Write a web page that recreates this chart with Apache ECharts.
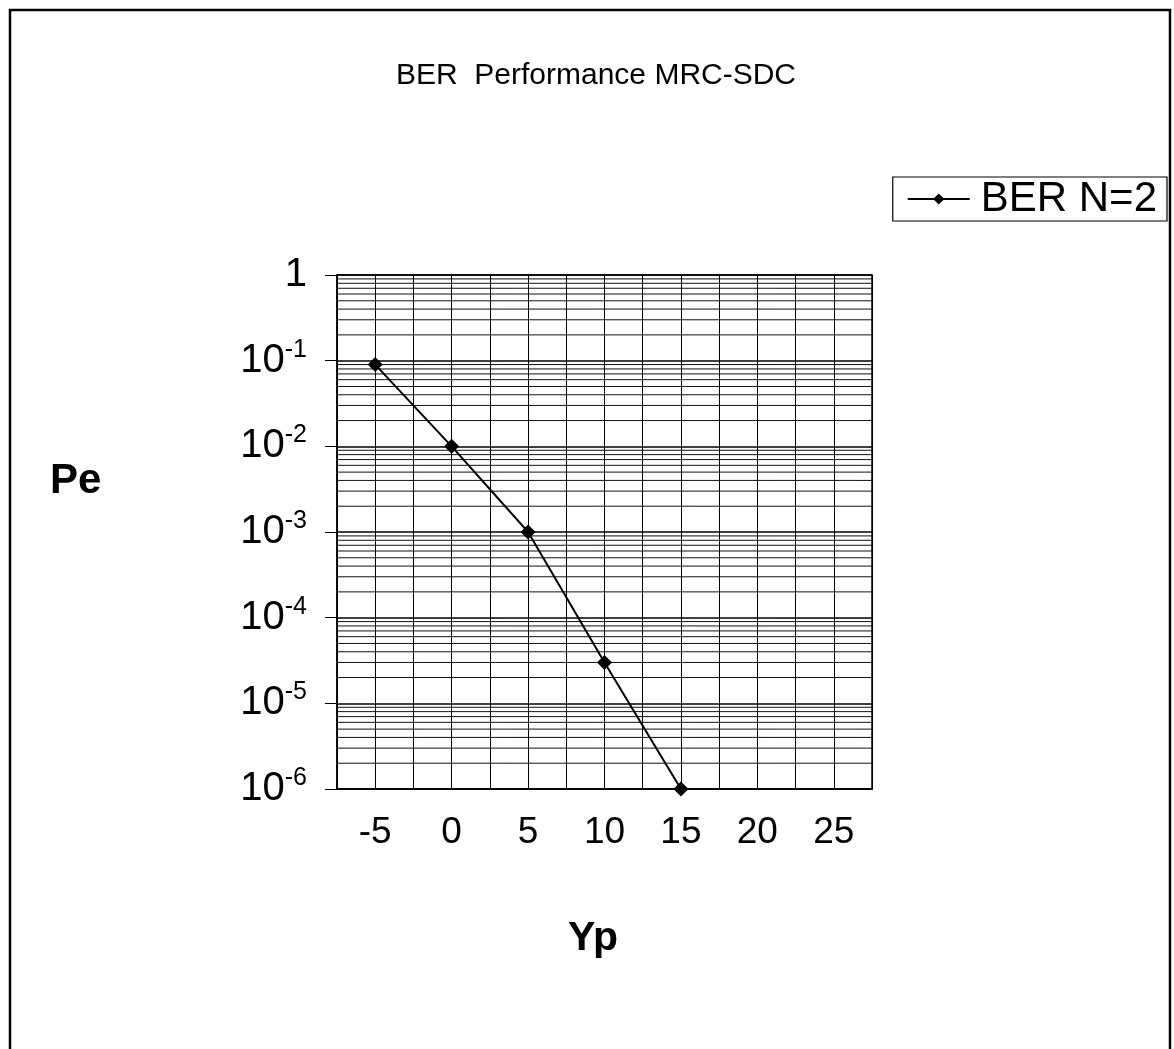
<!DOCTYPE html>
<html>
<head>
<meta charset="utf-8">
<script src="https://cdn.jsdelivr.net/npm/echarts@6/dist/echarts.min.js"></script>
<style>
html,body{margin:0;padding:0;background:#fff;}
#c{width:1174px;height:1049px;}
</style>
</head>
<body>
<div id="c"></div>
<script>
// Data
var yp = [-5, 0, 5, 10, 15];
var berN2 = [0.09, 0.01, 0.001, 0.00003, 0.000001];
var xTickLabels = [-5, 0, 5, 10, 15, 20, 25];
var seriesName = 'BER N=2';
var xMin = -7.5, xMax = 27.5;

var FONT = 'Liberation Sans, Arial, sans-serif';

// log minor grid lines (2..9 within each decade), drawn as thin line series across the plot
var gridSeries = [];
for (var e = -6; e < 0; e++) {
  for (var k = 2; k <= 9; k++) {
    var v = k * Math.pow(10, e);
    gridSeries.push({
      type: 'line', silent: true, symbol: 'none', z: 1,
      lineStyle: { color: '#111', width: 1 },
      data: [[xMin, v], [xMax, v]],
      tooltip: { show: false }
    });
  }
}

var chart = echarts.init(document.getElementById('c'), null, { renderer: 'canvas' });
chart.setOption({
  backgroundColor: '#fff',
  animation: false,
  title: {
    text: 'BER  Performance MRC-SDC',
    left: 591, textAlign: 'center', top: 56,
    textStyle: { fontFamily: FONT, fontSize: 30, fontWeight: 'normal', color: '#000' }
  },
  legend: {
    right: 7, top: 177,
    orient: 'vertical',
    itemWidth: 62, itemHeight: 14, itemGap: 0,
    padding: [1, 10, 1, 14],
    borderColor: '#000', borderWidth: 1.2,
    textStyle: { fontFamily: FONT, fontSize: 42, color: '#000', lineHeight: 38, padding: [0, 0, 0, 6] },
    data: [seriesName]
  },
  graphic: [
    { type: 'rect', shape: { x: 10, y: 10, width: 1160, height: 1060 }, style: { fill: 'none', stroke: '#000', lineWidth: 2.5 }, silent: true },
    { type: 'text', left: 50, top: 460, style: { text: 'Pe', font: 'bold 42px ' + FONT, fill: '#000' } },
    { type: 'text', left: 568, top: 918, style: { text: 'Yp', font: 'bold 41px ' + FONT, fill: '#000' } }
  ],
  grid: { left: 337, top: 275, right: 302, bottom: 260, show: true, borderColor: '#000', borderWidth: 1.5 },
  xAxis: {
    type: 'value', min: xMin, max: xMax, interval: 2.5,
    axisLine: { show: true, onZero: false, lineStyle: { color: '#000', width: 1.5 } },
    axisTick: { show: false },
    splitLine: { show: true, lineStyle: { color: '#000', width: 1 } },
    axisLabel: {
      margin: 25,
      fontFamily: FONT, fontSize: 37, color: '#000',
      formatter: function (v) {
        return xTickLabels.indexOf(v) >= 0 ? String(v) : '';
      }
    }
  },
  yAxis: {
    type: 'log', logBase: 10, min: 0.000001, max: 1,
    axisLine: { show: true, onZero: false, lineStyle: { color: '#000', width: 1.5 } },
    axisTick: { show: true, inside: false, length: 12, lineStyle: { color: '#000' } },
    splitLine: { show: true, lineStyle: { color: '#000', width: 1.5 } },
    axisLabel: {
      margin: 30,
      fontFamily: FONT, color: '#000',
      formatter: function (v) {
        var ex = Math.round(Math.log10(v));
        if (ex === 0) return '{b|1}';
        return '{b|10}{s|' + ex + '}';
      },
      rich: {
        b: { fontFamily: FONT, fontSize: 40, color: '#000', lineHeight: 44 },
        s: { fontFamily: FONT, fontSize: 25, color: '#000', lineHeight: 44, padding: [0, 0, 22, 0] }
      }
    }
  },
  series: gridSeries.concat([{
    name: seriesName,
    type: 'line',
    data: yp.map(function (x, i) { return [x, berN2[i]]; }),
    symbol: 'diamond', symbolSize: 15,
    itemStyle: { color: '#000' },
    lineStyle: { color: '#000', width: 2 },
    z: 5
  }])
});
</script>
</body>
</html>
